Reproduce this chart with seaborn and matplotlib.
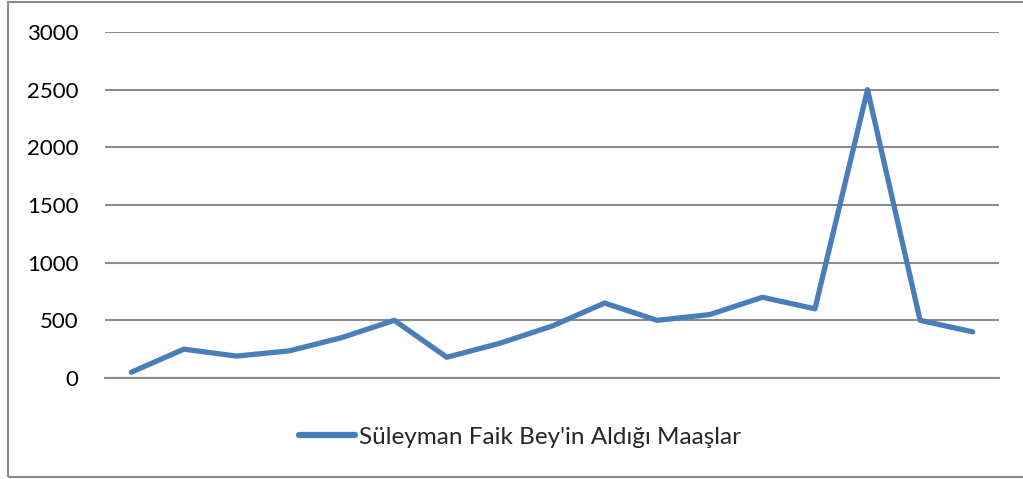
import matplotlib
matplotlib.use("Agg")
import matplotlib.pyplot as plt
import seaborn as sns
import pandas as pd
from matplotlib.patches import Rectangle

# salary values (17 entries, no x labels shown)
points = list(range(1, 18))
salaries = [50, 250, 190, 235, 350, 500, 180, 300, 450, 650,
            500, 550, 700, 600, 2500, 500, 400]
series_name = "Süleyman Faik Bey'in Aldığı Maaşlar"
y_ticks = [0, 500, 1000, 1500, 2000, 2500, 3000]

df = pd.DataFrame({"point": points, "salary": salaries})

sns.set_theme(style="white")
plt.rcParams['font.family'] = ['Lato', 'DejaVu Sans']

fig = plt.figure(figsize=(10.23, 4.79), dpi=100)
ax = fig.add_axes([105/1023, 1 - 378/479, 894/1023, 346/479])

sns.lineplot(data=df, x="point", y="salary", ax=ax, color="#4A7EBB",
             linewidth=3.8, label=series_name, solid_capstyle="round",
             solid_joinstyle="round", sort=False)

ax.set_xlim(0.5, 17.5)
ax.set_ylim(0, 3000)
ax.set_yticks(y_ticks)
ax.set_yticklabels([str(v) for v in y_ticks], fontsize=16, color="#000000")
ax.set_xticks([])
ax.yaxis.grid(True, color="#8C8C8C", linewidth=1.5)
ax.set_axisbelow(True)
for s in ax.spines.values():
    s.set_visible(False)
ax.spines['bottom'].set_visible(True)
ax.spines['bottom'].set_color("#8C8C8C")
ax.spines['bottom'].set_linewidth(1.5)
ax.tick_params(axis='y', length=0, pad=19)
ax.set_xlabel("")
ax.set_ylabel("")

leg = ax.legend(loc="center", bbox_to_anchor=(520/1023, 1 - 437/479),
                bbox_transform=fig.transFigure, frameon=False,
                fontsize=17.5, handlelength=2.3, handletextpad=0.15)
for h in leg.get_lines():
    h.set_linewidth(4.5)

# outer chart border (cut off at the right edge in the original)
fig.patches.append(Rectangle((8/1023, 2/479), 1.1, 475/479,
                             transform=fig.transFigure, fill=False,
                             edgecolor="#8C8C8C", linewidth=1.5))

fig.savefig("out.png", dpi=100)
